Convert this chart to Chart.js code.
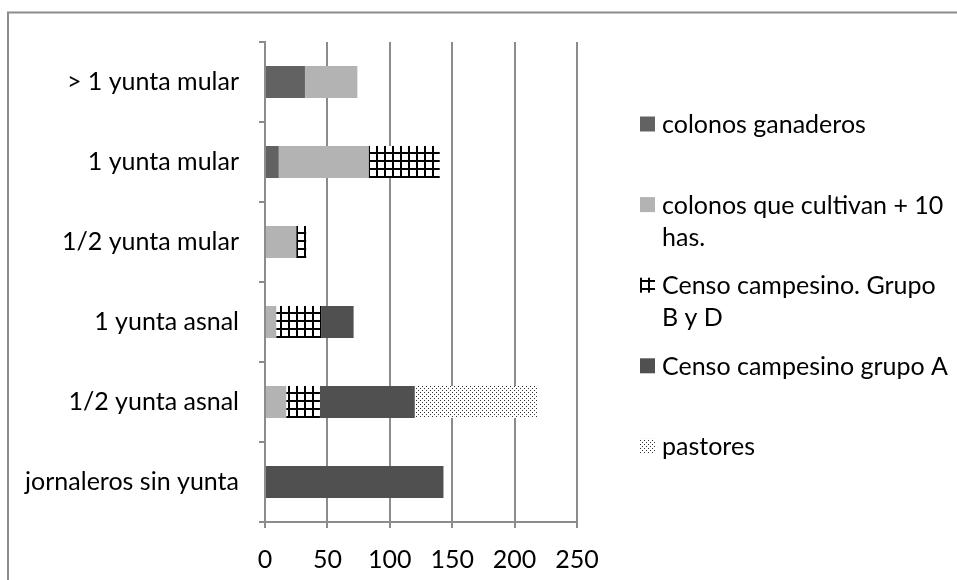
<!DOCTYPE html>
<html>
<head>
<meta charset="utf-8">
<script src="https://cdn.jsdelivr.net/npm/chart.js@4/dist/chart.umd.min.js"></script>
<style>
  html, body { margin: 0; padding: 0; background: #fff; }
  canvas { display: block; }
</style>
</head>
<body>
<canvas id="chart" width="957" height="580"></canvas>
<script>
// Yunta categories (top to bottom) and the stacked series for each
const categories = ['> 1 yunta mular', '1 yunta mular', '1/2 yunta mular', '1 yunta asnal', '1/2 yunta asnal', 'jornaleros sin yunta'];
const legendLines = [
  ['colonos ganaderos'],
  ['colonos que cultivan + 10', 'has.'],
  ['Censo campesino. Grupo', 'B y D'],
  ['Censo campesino grupo A'],
  ['pastores']
];
const colonosGanaderos = [32, 11, 0, 0, 0, 0];
const colonosCultivan  = [42, 72, 25, 9, 17, 0];
const censoGrupoBD     = [0, 57, 8, 36, 27, 0];
const censoGrupoA      = [0, 0, 0, 26, 76, 143];
const pastores         = [0, 0, 0, 0, 98, 0];
const xTicks = [0, 50, 100, 150, 200, 250];

const FONT = 'Lato';
const FONT_SIZE = 25;
const GRID = '#8c8c8c';

// hatch fills
function gridPattern() {
  const c = document.createElement('canvas');
  c.width = 8; c.height = 8;
  const g = c.getContext('2d');
  g.fillStyle = '#fff'; g.fillRect(0, 0, 8, 8);
  g.fillStyle = '#000';
  g.fillRect(0, 0, 2, 8);
  g.fillRect(0, 0, 8, 2);
  return g.createPattern(c, 'repeat');
}
function dotPattern() {
  const c = document.createElement('canvas');
  c.width = 4; c.height = 4;
  const g = c.getContext('2d');
  g.fillStyle = '#fff'; g.fillRect(0, 0, 4, 4);
  g.fillStyle = '#333';
  g.fillRect(0, 0, 1, 1);
  g.fillRect(2, 2, 1, 1);
  return g.createPattern(c, 'repeat');
}

const seriesValues = [colonosGanaderos, colonosCultivan, censoGrupoBD, censoGrupoA, pastores];
const seriesFills = ['#626262', '#b3b3b3', gridPattern(), '#505050', dotPattern()];

const datasets = seriesValues.map((vals, i) => ({
  label: legendLines[i].join(' '),
  data: vals,
  backgroundColor: seriesFills[i],
  borderWidth: 0,
  barPercentage: 0.4,
  categoryPercentage: 1.0
}));

// frame around the whole figure and the legend on the right
const decorations = {
  id: 'decorations',
  afterDraw(chart) {
    const ctx = chart.ctx;
    ctx.save();
    ctx.strokeStyle = GRID;
    ctx.lineWidth = 2;
    ctx.beginPath();
    ctx.moveTo(8, 600);
    ctx.lineTo(8, 12.5);
    ctx.lineTo(960, 12.5);
    ctx.stroke();

    ctx.font = FONT_SIZE + 'px ' + FONT;
    ctx.textBaseline = 'middle';
    ctx.textAlign = 'left';
    chart.data.datasets.forEach((ds, i) => {
      const cy = 124 + i * 80.6;
      ctx.fillStyle = ds.backgroundColor;
      ctx.fillRect(640, cy - 7.5, 15, 15);
      ctx.fillStyle = '#000';
      legendLines[i].forEach((line, j) => {
        ctx.fillText(line, 662, cy + 1 + j * 32);
      });
    });
    ctx.restore();
  }
};

new Chart(document.getElementById('chart'), {
  type: 'bar',
  data: { labels: categories, datasets },
  options: {
    indexAxis: 'y',
    responsive: false,
    animation: false,
    layout: { padding: { left: 0, right: 380, top: 42, bottom: 0 } },
    plugins: { legend: { display: false }, tooltip: { enabled: false } },
    scales: {
      x: {
        stacked: true,
        min: 0,
        max: 250,
        afterBuildTicks(scale) { scale.ticks = xTicks.map(v => ({ value: v })); },
        afterFit(scale) { scale.height = 58; },
        ticks: { color: '#000', font: { family: FONT, size: FONT_SIZE }, padding: 17, maxRotation: 0 },
        grid: { color: GRID, lineWidth: 2, tickLength: 6, tickColor: GRID },
        border: { color: GRID, width: 2 }
      },
      y: {
        stacked: true,
        afterFit(scale) { scale.width = 265; },
        ticks: { color: '#000', font: { family: FONT, size: FONT_SIZE }, padding: 20 },
        grid: { drawOnChartArea: false, offset: true, tickLength: 6, tickColor: GRID, lineWidth: 2 },
        border: { color: GRID, width: 2 }
      }
    }
  },
  plugins: [decorations]
});
</script>
</body>
</html>
